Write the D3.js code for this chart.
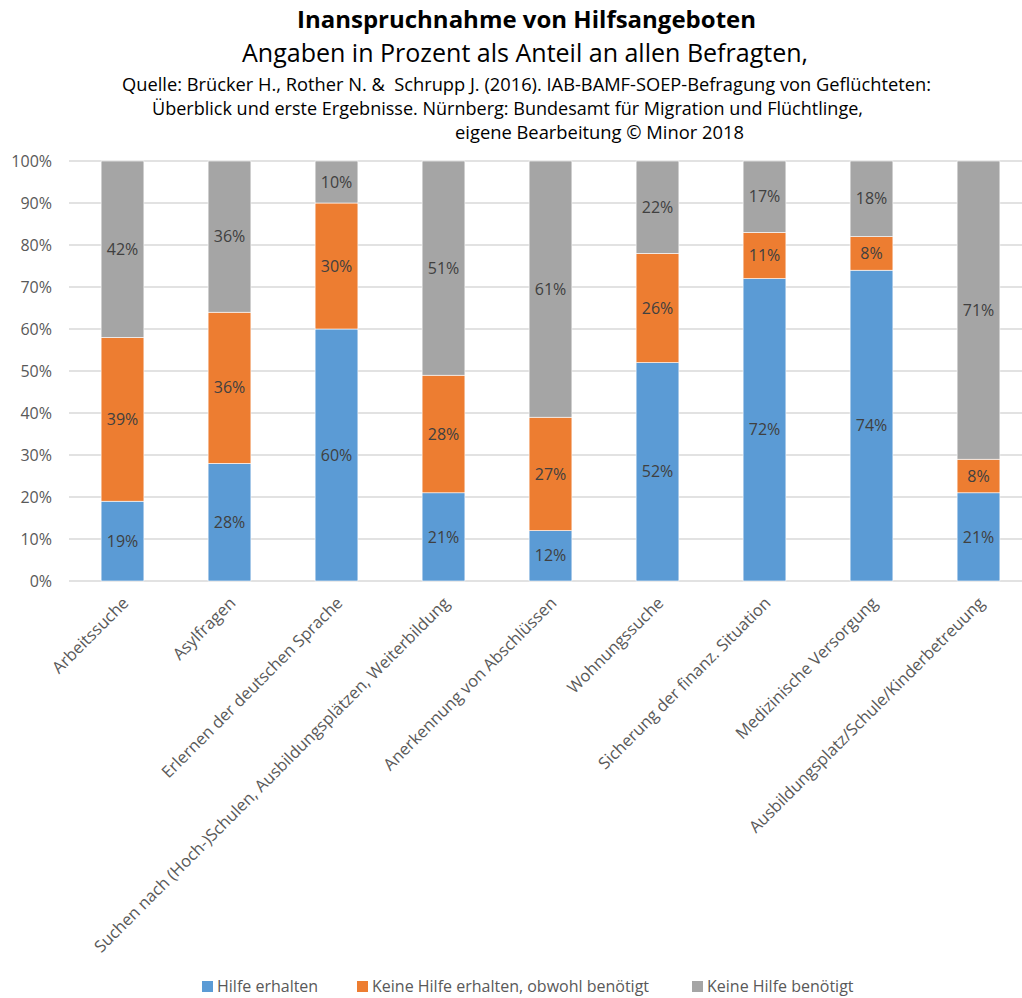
<!DOCTYPE html>
<html>
<head>
<meta charset="utf-8">
<script src="https://cdn.jsdelivr.net/npm/d3@7"></script>
<style>
  body { margin: 0; background: #fff; }
  svg { display: block; font-family: "Open Sans", sans-serif; }
</style>
</head>
<body>
<div id="chart"></div>
<script>
// categories and series (percent)
const categories = [
  "Arbeitssuche",
  "Asylfragen",
  "Erlernen der deutschen Sprache",
  "Suchen nach (Hoch-)Schulen, Ausbildungsplätzen, Weiterbildung",
  "Anerkennung von Abschlüssen",
  "Wohnungssuche",
  "Sicherung der finanz. Situation",
  "Medizinische Versorgung",
  "Ausbildungsplatz/Schule/Kinderbetreuung"
];
const hilfeErhalten = [19, 28, 60, 21, 12, 52, 72, 74, 21];
const keineHilfeObwohl = [39, 36, 30, 28, 27, 26, 11, 8, 8];
const keineHilfeBenoetigt = [42, 36, 10, 51, 61, 22, 17, 18, 71];
const seriesNames = ["Hilfe erhalten", "Keine Hilfe erhalten, obwohl benötigt", "Keine Hilfe benötigt"];
const yTicks = [0, 10, 20, 30, 40, 50, 60, 70, 80, 90, 100];

const colors = ["#5B9BD5", "#ED7D31", "#A5A5A5"];
const W = 1022, H = 998;

const svg = d3.select("#chart").append("svg")
  .attr("width", W)
  .attr("height", H);

// title block
const titleLines = [
  {text: "Inanspruchnahme von Hilfsangeboten", y: 28, size: 23, weight: "bold", x0: 297, x1: 756},
  {text: "Angaben in Prozent als Anteil an allen Befragten,", y: 62, size: 25, weight: "normal", x0: 242, x1: 808},
  {text: "Quelle: Brücker H., Rother N. &  Schrupp J. (2016). IAB-BAMF-SOEP-Befragung von Geflüchteten:", y: 91, size: 17.5, weight: "normal", x0: 122, x1: 931},
  {text: "Überblick und erste Ergebnisse. Nürnberg: Bundesamt für Migration und Flüchtlinge,", y: 115, size: 17.5, weight: "normal", x0: 152, x1: 863},
  {text: "eigene Bearbeitung © Minor 2018", y: 139, size: 17.5, weight: "normal", x0: 455, x1: 744}
];
svg.append("g").selectAll("text")
  .data(titleLines)
  .enter().append("text")
    .attr("x", d => d.x0)
    .attr("y", d => d.y)
    .attr("font-size", d => d.size)
    .attr("font-weight", d => d.weight)
    .attr("textLength", d => d.x1 - d.x0)
    .attr("lengthAdjust", "spacingAndGlyphs")
    .attr("xml:space", "preserve")
    .attr("fill", "#000")
    .text(d => d.text);

// scales
const x = d3.scaleBand()
  .domain(categories)
  .range([69, 1032])
  .paddingInner(0.6)
  .paddingOuter(0.3);

const y = d3.scaleLinear()
  .domain([0, 100])
  .range([581, 161]);

// gridlines
svg.append("g")
  .selectAll("line")
  .data(yTicks)
  .enter().append("line")
    .attr("x1", 69)
    .attr("x2", W)
    .attr("y1", d => y(d))
    .attr("y2", d => y(d))
    .attr("stroke", "#d9d9d9")
    .attr("stroke-width", 1.3);

// y axis labels
const yAxis = svg.append("g")
  .attr("transform", "translate(52,0)")
  .call(d3.axisLeft(y).tickValues(yTicks).tickSize(0).tickPadding(0).tickFormat(d => d + "%"));
yAxis.select(".domain").remove();
yAxis.selectAll("text")
  .attr("font-family", "Open Sans, sans-serif")
  .attr("font-size", 16)
  .attr("fill", "#595959");

// stacked data
const rows = categories.map((c, i) => ({
  cat: c,
  s0: hilfeErhalten[i],
  s1: keineHilfeObwohl[i],
  s2: keineHilfeBenoetigt[i]
}));
const stack = d3.stack().keys(["s0", "s1", "s2"]);
const stacked = stack(rows);

const layers = svg.append("g").selectAll("g")
  .data(stacked)
  .enter().append("g")
    .attr("fill", (d, i) => colors[i]);

layers.selectAll("rect")
  .data(d => d)
  .enter().append("rect")
    .attr("x", d => x(d.data.cat))
    .attr("width", x.bandwidth())
    .attr("y", d => y(d[1]))
    .attr("height", d => y(d[0]) - y(d[1]))
    .attr("stroke", "#fff")
    .attr("stroke-width", 0.6);

// value labels
layers.selectAll("text")
  .data(d => d)
  .enter().append("text")
    .attr("x", d => x(d.data.cat) + x.bandwidth() / 2)
    .attr("y", d => y((d[0] + d[1]) / 2))
    .attr("dy", "0.35em")
    .attr("text-anchor", "middle")
    .attr("font-size", 16)
    .attr("fill", "#404040")
    .text(d => (d[1] - d[0]) + "%");

// category labels, rotated
svg.append("g").selectAll("text")
  .data(categories)
  .enter().append("text")
    .attr("transform", d => `translate(${x(d) + x.bandwidth() / 2 + 3},${600}) rotate(-45)`)
    .attr("text-anchor", "end")
    .attr("dy", "0.35em")
    .attr("font-size", 16.5)
    .attr("fill", "#595959")
    .text(d => d);

// legend
const legendX = [202, 357, 692];
const legend = svg.append("g").selectAll("g")
  .data(seriesNames)
  .enter().append("g")
    .attr("transform", (d, i) => `translate(${legendX[i]},${981})`);
legend.append("rect")
  .attr("width", 11)
  .attr("height", 11)
  .attr("fill", (d, i) => colors[i]);
legend.append("text")
  .attr("x", 15)
  .attr("y", 5.5)
  .attr("dy", "0.35em")
  .attr("font-size", 16)
  .attr("fill", "#595959")
  .text(d => d);
</script>
</body>
</html>
